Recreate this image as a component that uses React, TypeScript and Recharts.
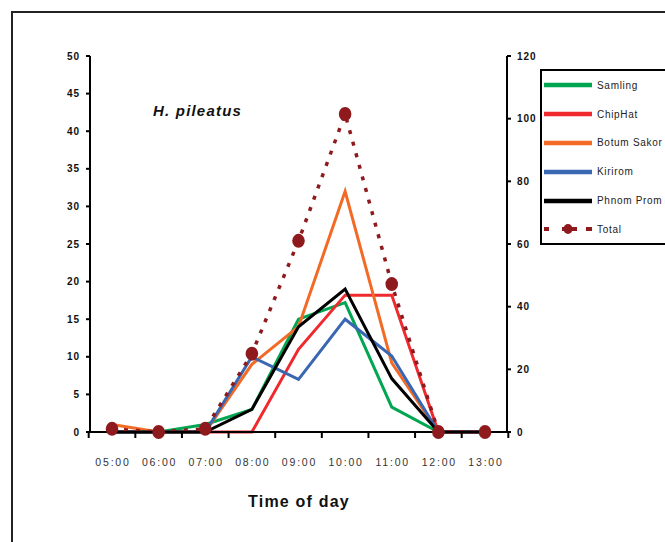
import React from 'react';
import { LineChart, Line, XAxis, YAxis, Legend } from 'recharts';

const times = ['05:00', '06:00', '07:00', '08:00', '09:00', '10:00', '11:00', '12:00', '13:00'];
const samling = [0, 0, 1, 3, 15, 17.2, 3.3, 0, 0];
const chipHat = [0, 0, 0, 0, 11, 18.2, 18.2, 0, 0];
const botumSakor = [1, 0, 0, 9, 14, 32, 9.2, 0, 0];
const kirirom = [0, 0, 0, 10, 7, 15, 10.1, 0, 0];
const phnomProm = [0, 0, 0, 3, 14, 19, 7.1, 0, 0];
const total = [1, 0, 1, 25, 61, 101.5, 47.2, 0, 0];

const leftTicks = [0, 5, 10, 15, 20, 25, 30, 35, 40, 45, 50];
const rightTicks = [0, 20, 40, 60, 80, 100, 120];

const seriesInfo = [
  { key: 'samling', name: 'Samling', color: '#00A651' },
  { key: 'chipHat', name: 'ChipHat', color: '#EE2A2F' },
  { key: 'botumSakor', name: 'Botum Sakor', color: '#F26A25' },
  { key: 'kirirom', name: 'Kirirom', color: '#3A67B1' },
  { key: 'phnomProm', name: 'Phnom Prom', color: '#000000' },
];
const totalColor = '#8E1A1E';

const data = times.map((t, i) => ({
  time: t,
  samling: samling[i],
  chipHat: chipHat[i],
  botumSakor: botumSakor[i],
  kirirom: kirirom[i],
  phnomProm: phnomProm[i],
  total: total[i],
}));

const FONT = '"Liberation Sans", Arial, sans-serif';
const HALF_STEP = 23.3;

const XTick = (props: any) => {
  const { x, y, payload, index } = props;
  return (
    <g>
      <line x1={x - HALF_STEP} x2={x - HALF_STEP} y1={y} y2={y + 6} stroke="#000" strokeWidth={2} />
      {index === times.length - 1 && (
        <line x1={x + HALF_STEP} x2={x + HALF_STEP} y1={y} y2={y + 6} stroke="#000" strokeWidth={2} />
      )}
      <text x={x + 1} y={y + 34} textAnchor="middle" fontSize={10.5} letterSpacing={1.8} fill="#333" fontFamily={FONT}>
        {payload.value}
      </text>
    </g>
  );
};

const TotalDot = (props: any) => {
  const { cx, cy } = props;
  if (cx == null || cy == null) return null;
  return <ellipse cx={cx} cy={cy} rx={6.3} ry={7} fill={totalColor} />;
};

const LegendBox = () => {
  const rowH = 28.8;
  return (
    <div
      style={{
        border: '2px solid #000',
        background: '#fff',
        width: 150,
        height: 176,
        boxSizing: 'border-box',
        overflow: 'hidden',
        fontFamily: FONT,
      }}
    >
      {seriesInfo.map((s) => (
        <div key={s.key} style={{ height: rowH, display: 'flex', alignItems: 'center' }}>
          <svg width={53} height={10} style={{ marginLeft: 2, flex: 'none' }}>
            <line x1={0} x2={48} y1={5} y2={5} stroke={s.color} strokeWidth={4.5} />
          </svg>
          <span style={{ fontSize: 10, letterSpacing: 0.7, color: '#222', whiteSpace: 'nowrap' }}>{s.name}</span>
        </div>
      ))}
      <div style={{ height: rowH, display: 'flex', alignItems: 'center' }}>
        <svg width={53} height={12} style={{ marginLeft: 2, flex: 'none' }}>
          <rect x={0} y={4} width={5} height={4} fill={totalColor} />
          <rect x={18} y={4} width={15} height={4} fill={totalColor} />
          <ellipse cx={24} cy={6} rx={4.5} ry={5} fill={totalColor} />
          <rect x={42} y={4} width={6} height={4} fill={totalColor} />
        </svg>
        <span style={{ fontSize: 10, letterSpacing: 0.7, color: '#222', whiteSpace: 'nowrap' }}>Total</span>
      </div>
    </div>
  );
};

export default function App() {
  return (
    <div
      style={{
        position: 'absolute',
        left: 0,
        top: 0,
        width: 665,
        height: 542,
        overflow: 'hidden',
        background: '#fff',
        fontFamily: FONT,
      }}
    >
      <div
        style={{
          position: 'absolute',
          left: 11,
          top: 11,
          width: 720,
          height: 620,
          border: '2px solid #222',
        }}
      />
      <div
        style={{
          position: 'absolute',
          left: 153,
          top: 101,
          lineHeight: '20px',
          fontSize: 15,
          fontWeight: 'bold',
          fontStyle: 'italic',
          letterSpacing: 1.2,
          color: '#111',
        }}
      >
        H. pileatus
      </div>
      <div
        style={{
          position: 'absolute',
          left: 199,
          top: 492,
          width: 200,
          textAlign: 'center',
          lineHeight: '20px',
          fontSize: 16,
          fontWeight: 'bold',
          letterSpacing: 1.2,
          color: '#111',
        }}
      >
        Time of day
      </div>
      <div style={{ position: 'absolute', left: 0, top: 0 }}>
        <LineChart
          width={665}
          height={542}
          data={data}
          margin={{ top: 56, right: 108, bottom: 80, left: 40 }}
        >
          <XAxis
            dataKey="time"
            type="category"
            padding={{ left: 22, right: 22 }}
            height={30}
            axisLine={{ stroke: '#000', strokeWidth: 2 }}
            tickLine={false}
            tickSize={0}
            tickMargin={0}
            tick={<XTick />}
            interval={0}
          />
          <YAxis
            yAxisId="left"
            width={50}
            domain={[0, 50]}
            ticks={leftTicks}
            interval={0}
            axisLine={{ stroke: '#000', strokeWidth: 2 }}
            tickLine={{ stroke: '#000', strokeWidth: 2 }}
            tickSize={4}
            tickMargin={6}
            tick={{ fontSize: 10, fontWeight: 'bold', fill: '#111', letterSpacing: 1, fontFamily: FONT }}
          />
          <YAxis
            yAxisId="right"
            orientation="right"
            width={50}
            domain={[0, 120]}
            ticks={rightTicks}
            interval={0}
            axisLine={{ stroke: '#000', strokeWidth: 2 }}
            tickLine={{ stroke: '#000', strokeWidth: 2 }}
            tickSize={4}
            tickMargin={6}
            tick={{ fontSize: 10, fontWeight: 'bold', fill: '#111', letterSpacing: 1, fontFamily: FONT }}
          />
          <Legend
            layout="vertical"
            align="center"
            verticalAlign="middle"
            content={<LegendBox />}
            wrapperStyle={{ position: 'absolute', left: 540, top: 69, width: 150, height: 176 }}
          />
          {seriesInfo.map((s) => (
            <Line
              key={s.key}
              yAxisId="left"
              type="linear"
              dataKey={s.key}
              name={s.name}
              stroke={s.color}
              strokeWidth={3}
              dot={false}
              activeDot={false}
              isAnimationActive={false}
            />
          ))}
          <Line
            yAxisId="right"
            type="linear"
            dataKey="total"
            name="Total"
            stroke={totalColor}
            strokeWidth={3.5}
            strokeDasharray="4 8"
            dot={<TotalDot />}
            activeDot={false}
            isAnimationActive={false}
          />
        </LineChart>
      </div>
    </div>
  );
}
